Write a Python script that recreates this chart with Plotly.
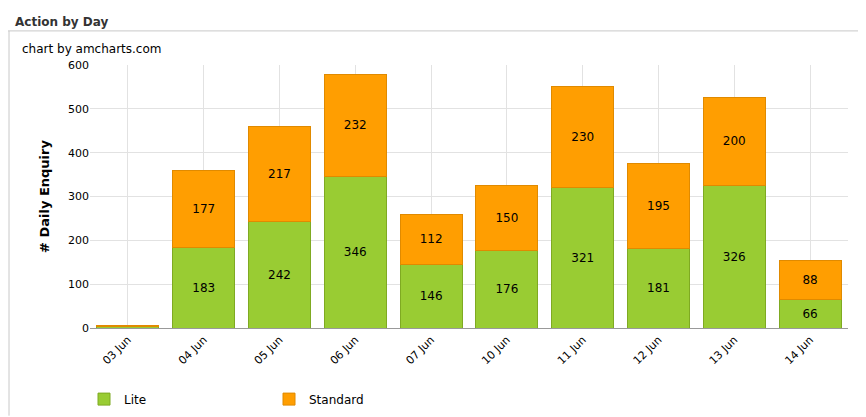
import plotly.graph_objects as go

days = ["03 Jun","04 Jun","05 Jun","06 Jun","07 Jun","10 Jun","11 Jun","12 Jun","13 Jun","14 Jun"]
lite = [4,183,242,346,146,176,321,181,326,66]
standard = [1,177,217,232,112,150,230,195,200,88]
yticks = [0,100,200,300,400,500,600]

def lbl(v):
    return [str(x) if x >= 20 else "" for x in v]

fig = go.Figure()
fig.add_bar(x=days, y=lite, name="Lite", marker=dict(color="#99CC33", line=dict(color="#7FAA22", width=1)),
            text=lbl(lite), textposition="inside", insidetextanchor="middle",
            textfont=dict(color="#000", size=12), hoverinfo="skip")
fig.add_bar(x=days, y=standard, name="Standard", marker=dict(color="#FF9E01", line=dict(color="#E08A00", width=1)),
            text=lbl(standard), textposition="inside", insidetextanchor="middle",
            textfont=dict(color="#000", size=12), hoverinfo="skip")

ph = 417-57-90; pw = 866-82-26
fig.update_layout(
    barmode="stack", bargap=0.18, width=866, height=417,
    paper_bgcolor="white", plot_bgcolor="white",
    margin=dict(l=82, r=26, t=57, b=90),
    font=dict(family="DejaVu Sans", size=12, color="#000"),
    uniformtext=dict(minsize=8, mode="show"),
    xaxis=dict(tickangle=-45, showgrid=True, gridcolor="#E2E2E2", showline=True, linecolor="#999",
               ticks="", tickfont=dict(size=11), automargin=False),
    yaxis=dict(range=[0,600], tickvals=yticks, gridcolor="#E2E2E2", showline=False, zeroline=False,
               title=dict(text="<b># Daily Enquiry</b>", font=dict(size=13)), tickfont=dict(size=11),
               automargin=False),
    legend=dict(orientation="h", x=-6/pw, xanchor="left", y=-(400-327)/ph, yanchor="middle",
                traceorder="normal", font=dict(size=12), entrywidth=140, entrywidthmode="pixels"),
    annotations=[
        dict(text="<b>Action by Day</b>", x=(5-82)/pw, y=1+(57-4)/ph, xref="paper", yref="paper",
             xanchor="left", yanchor="top", showarrow=False, font=dict(size=12, color="#333")),
        dict(text="chart by amcharts.com", x=(12-82)/pw, y=1+(57-31)/ph, xref="paper", yref="paper",
             xanchor="left", yanchor="top", showarrow=False, font=dict(size=12, color="#000")),
    ],
)
fig.add_shape(type="line", xref="paper", yref="paper", x0=-82/pw, x1=1+26/pw, y0=1+(57-22)/ph, y1=1+(57-22)/ph,
              line=dict(color="#C8C8C8", width=1))
fig.add_shape(type="line", xref="paper", yref="paper", x0=-81/pw, x1=-81/pw, y0=1+(57-22)/ph, y1=-90/ph,
              line=dict(color="#C8C8C8", width=1))
fig.write_html("out.html")
